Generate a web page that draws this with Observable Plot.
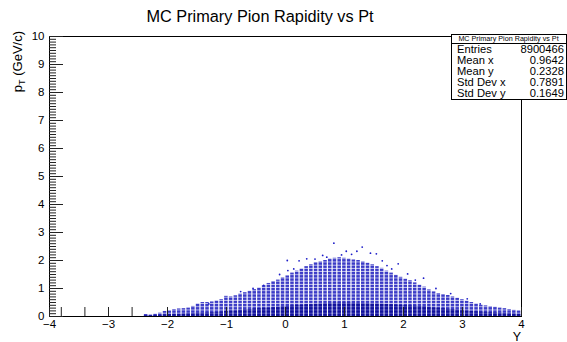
<!DOCTYPE html>
<html><head><meta charset="utf-8">
<script src="https://cdn.jsdelivr.net/npm/d3@7"></script>
<script src="https://cdn.jsdelivr.net/npm/@observablehq/plot@0.6"></script>
<style>
body{margin:0;background:#fff}
svg{font-family:"Liberation Sans",Arial,sans-serif}
</style>
</head><body><div id="chart"></div>
<script>
// Rapidity bins (lower edge of first bin and width)
const binStart = -2.4;
const binWidth = 0.08;
// Upper edge of the populated region in each rapidity bin (pT, GeV/c)
const bulkTop = [
  0.07,0.05,0.08,0.12,0.18,0.20,0.25,0.27,0.28,0.30,0.36,0.45,0.50,0.50,0.52,0.56,
  0.60,0.72,0.70,0.74,0.80,0.85,0.90,0.96,1.02,1.10,1.18,1.25,1.30,1.38,1.45,1.55,
  1.62,1.70,1.78,1.85,1.92,1.95,2.00,2.05,2.08,2.10,2.08,2.05,2.02,2.00,1.95,1.90,
  1.85,1.78,1.72,1.62,1.55,1.47,1.40,1.33,1.28,1.20,1.12,1.05,0.95,0.88,0.82,0.78,
  0.75,0.70,0.65,0.60,0.55,0.50,0.45,0.40,0.38,0.35,0.33,0.30,0.28,0.25,0.22,0.20
];
// Upper edge of the dense core in each rapidity bin
const coreTop = [
  0.03,0.03,0.04,0.05,0.06,0.07,0.08,0.08,0.09,0.10,0.10,
  0.12,0.12,0.13,0.14,0.15,0.16,0.18,0.20,0.20,0.22,0.24,0.25,0.27,
  0.28,0.30,0.30,0.32,0.33,0.35,0.36,0.38,0.40,0.40,0.42,0.42,
  0.44,0.45,0.46,0.47,0.48,0.48,0.48,0.48,0.47,0.47,0.46,0.46,0.45,0.45,0.44,0.43,0.42,0.41,0.40,0.39,0.38,0.37,0.36,0.35,
  0.33,0.31,0.30,0.28,0.26,0.25,0.23,0.22,0.20,0.18,0.17,0.16,0.15,0.14,0.13,0.12,0.11,0.10,0.09,0.08
];
// Isolated points above the bulk
const outlierY  = [0.82,1.30,1.21,1.03,0.63,1.44,1.54,1.91,2.07,2.34,0.36,0.23,3.08,-0.37,0.04,1.64,1.72,-0.76,-1.30,0.03,0.14,0.50,0.95,1.12,1.80,2.20,-0.55,-0.10,0.70,2.55,2.80,3.30];
const outlierPt = [2.62,2.48,2.33,2.33,2.18,2.26,2.24,1.88,1.52,1.37,2.06,1.99,0.63,1.11,1.64,1.99,1.82,0.89,0.45,2.00,1.70,2.05,2.20,2.22,1.70,1.30,1.00,1.50,2.12,1.00,0.82,0.45];

const xTicks = [-4,-3,-2,-1,0,1,2,3,4];
const xExtraTicks = [-3.8,-3.4,-2.6];
const yTicks = [0,1,2,3,4,5,6,7,8,9,10];
const yMinorTicks = d3.range(0, 100).map(i => i / 10).filter(v => !Number.isInteger(v));

const title = "MC Primary Pion Rapidity vs Pt";
const statLabels = ["Entries","Mean x","Mean y","Std Dev x","Std Dev y"];
const statValues = ["8900466","0.9642","0.2328","0.7891","0.1649"];

const bins = bulkTop.map((t, i) => ({
  x1: binStart + i * binWidth,
  x2: binStart + (i + 1) * binWidth,
  top: t,
  core: coreTop[i]
}));
const outliers = outlierY.map((y, i) => ({y, pt: outlierPt[i]}));

const W = 567, H = 342;
const mL = 49, mR = 46, mT = 36, mB = 26;
const xUnit = (W - mL - mR) / 8;   // px per rapidity unit
const yUnit = (H - mT - mB) / 10;  // px per GeV/c

const plot = Plot.plot({
  width: W, height: H,
  marginLeft: mL, marginRight: mR, marginTop: mT, marginBottom: mB,
  x: {domain: [-4, 4]},
  y: {domain: [0, 10]},
  style: {fontFamily: '"Liberation Sans", Arial, sans-serif', background: "white"},
  marks: [
    Plot.rect(bins, {x1: "x1", x2: "x2", y1: 0, y2: "top", fill: "url(#bulkPat)", insetLeft: 0.5, insetRight: 0.7}),
    Plot.rect(bins, {x1: "x1", x2: "x2", y1: 0, y2: "core", fill: "url(#corePat)", insetLeft: 0.5, insetRight: 0.7}),
    Plot.dot(outliers, {x: "y", y: "pt", r: 0.9, fill: "#1c1cc8", stroke: null}),
    Plot.frame({stroke: "black", strokeWidth: 1}),
    Plot.ruleY(yTicks, {x1: -4, x2: -4 + 14 / xUnit, stroke: "#222"}),
    Plot.ruleY(yMinorTicks, {x1: -4, x2: -4 + 7 / xUnit, stroke: "#222"}),
    Plot.ruleX(xTicks, {y1: 0, y2: 9 / yUnit, stroke: "#222"}),
    Plot.ruleX(xExtraTicks, {y1: 0, y2: 9 / yUnit, stroke: "#222"}),
    Plot.axisX({ticks: xTicks, tickSize: 0, tickPadding: 3, fontSize: 11.5, label: null}),
    Plot.axisY({ticks: yTicks, tickSize: 0, tickPadding: 5, fontSize: 11.5, label: null})
  ]
});

const svg = d3.select(plot);
// fill textures that imitate the dotted scatter rendering
const defs = svg.insert("defs", ":first-child");
const p1 = defs.append("pattern").attr("id", "bulkPat").attr("patternUnits", "userSpaceOnUse")
  .attr("width", 4).attr("height", 3.2);
p1.append("rect").attr("width", 4).attr("height", 3.2).attr("fill", "#3a3ac6");
p1.append("rect").attr("y", 2.3).attr("width", 4).attr("height", 0.9).attr("fill", "#c8c8f0");
const p2 = defs.append("pattern").attr("id", "corePat").attr("patternUnits", "userSpaceOnUse")
  .attr("width", 4).attr("height", 3.2);
p2.append("rect").attr("width", 4).attr("height", 3.2).attr("fill", "#10109a");
p2.append("rect").attr("y", 2.3).attr("width", 4).attr("height", 0.9).attr("fill", "#5656c0");

svg.append("text").attr("x", 260).attr("y", 22).attr("text-anchor", "middle")
  .attr("font-size", 16.3).attr("fill", "#000").text(title);

// axis titles
const yl = svg.append("text").attr("transform", "translate(22,31) rotate(-90)")
  .attr("text-anchor", "end").attr("font-size", 13).attr("fill", "#000");
yl.append("tspan").text("p");
yl.append("tspan").attr("font-size", 9).attr("dy", 3).text("T");
yl.append("tspan").attr("dy", -3).text(" (GeV/c)");
svg.append("text").attr("x", 521).attr("y", 340.5).attr("text-anchor", "end")
  .attr("font-size", 12.5).attr("fill", "#000").text("Y");

// stats box
const bx = 451, by = 34, bw = 115, bh = 65, hh = 9;
const g = svg.append("g");
g.append("rect").attr("x", bx + 0.5).attr("y", by + 0.5).attr("width", bw).attr("height", bh)
  .attr("fill", "white").attr("stroke", "black");
g.append("line").attr("x1", bx).attr("x2", bx + bw).attr("y1", by + hh + 0.5).attr("y2", by + hh + 0.5).attr("stroke", "black");
g.append("text").attr("x", bx + bw / 2).attr("y", by + 7).attr("text-anchor", "middle")
  .attr("font-size", 7.2).attr("fill", "#000").text(title);
const rowH = (bh - hh) / statLabels.length;
statLabels.forEach((l, i) => {
  const yy = by + hh + rowH * (i + 0.5) + 4;
  g.append("text").attr("x", bx + 6).attr("y", yy).attr("text-anchor", "start")
    .attr("font-size", 11.2).attr("fill", "#000").text(l);
  g.append("text").attr("x", bx + bw - 2).attr("y", yy).attr("text-anchor", "end")
    .attr("font-size", 11.2).attr("fill", "#000").text(statValues[i]);
});

document.getElementById("chart").appendChild(plot);
</script>
</body></html>
